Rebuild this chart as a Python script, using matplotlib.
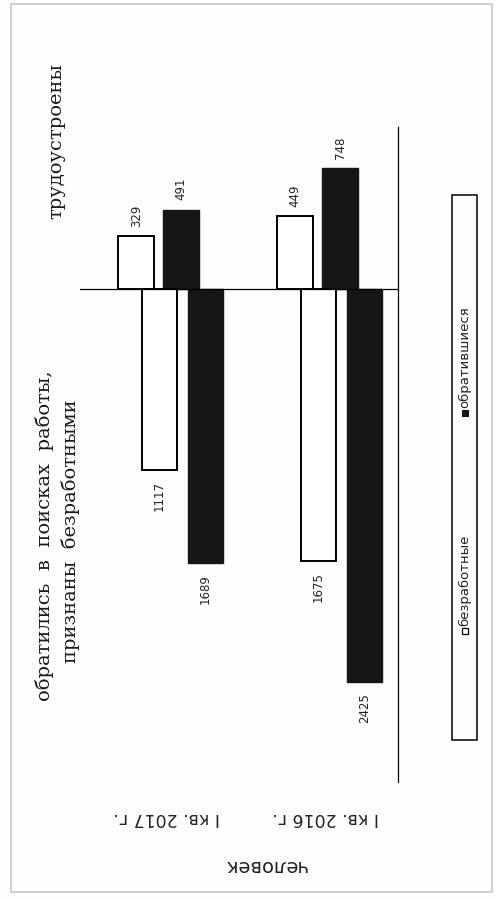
import matplotlib.pyplot as plt
from matplotlib.patches import Rectangle
from matplotlib.transforms import blended_transform_factory

# data
quarters = ['I кв. 2017 г.', 'I кв. 2016 г.']
employed_unemployed = [329, 449]    # трудоустроены, безработные
employed_applied = [491, 748]       # трудоустроены, обратившиеся
sought_unemployed = [1117, 1675]    # обратились / признаны безработными
sought_applied = [1689, 2425]

legend_labels = ['безработные', 'обратившиеся']
title_up = 'трудоустроены'
title_down = ['обратились  в  поисках  работы,', 'признаны  безработными']
unit_label = 'человек'

W, H = 496, 899
fig = plt.figure(figsize=(W / 100, H / 100), dpi=100)
fig.patch.set_facecolor('#fdfdfd')

ax = fig.add_axes([80 / W, 1 - 782 / H, 318 / W, 655 / H])
ax.set_facecolor('none')

white = 'white'
black = '#161616'
bw = 0.224
pos = range(len(quarters))

b1 = ax.bar([p - 0.212 for p in pos], employed_unemployed, bw, color=white, edgecolor='black', lw=1.4)
b2 = ax.bar([p + 0.071 for p in pos], employed_applied, bw, color=black, edgecolor=black, lw=1)
b3 = ax.bar([p - 0.066 for p in pos], [-v for v in sought_unemployed], bw, color=white, edgecolor='black', lw=1.4)
b4 = ax.bar([p + 0.223 for p in pos], [-v for v in sought_applied], bw, color=black, edgecolor=black, lw=1)

num_font = dict(family='DejaVu Sans', fontsize=8.5, rotation=90, color='#222222')
for bars, vals in [(b1, employed_unemployed), (b2, employed_applied)]:
    for r, v in zip(bars, vals):
        ax.annotate(str(v), (r.get_x() + r.get_width() / 2, v), xytext=(0, 6.5),
                    textcoords='offset points', ha='center', va='bottom', **num_font)
for bars, vals in [(b3, sought_unemployed), (b4, sought_applied)]:
    for r, v in zip(bars, vals):
        ax.annotate(str(v), (r.get_x() + r.get_width() / 2, -v), xytext=(0, -8),
                    textcoords='offset points', ha='center', va='top', **num_font)

ax.axhline(0, color='black', lw=0.9)
ax.set_xlim(-0.566, 1.434)
ax.set_ylim(-3040, 1000)
for s in ['top', 'left', 'bottom']:
    ax.spines[s].set_visible(False)
ax.spines['right'].set_linewidth(0.9)
ax.set_xticks([])
ax.set_yticks([])

# category labels (upside down as in the scan)
tr = blended_transform_factory(ax.transData, ax.transAxes)
for p, q in zip(pos, quarters):
    ax.text(p - 0.02, -0.055, q, transform=tr, rotation=180, ha='center', va='center',
            family='DejaVu Sans', fontsize=12.5, color='#222222')
ax.text(0.582, -0.128, unit_label, transform=ax.transAxes, rotation=180, ha='center',
        va='center', family='DejaVu Sans', fontsize=14, color='#222222')

# titles
serif = dict(family='DejaVu Serif', fontsize=14, rotation=90, ha='center', va='center', color='#1a1a1a')
fig.text(56 / W, 1 - 141 / H, title_up, **serif)
fig.text(45 / W, 1 - 536 / H, title_down[0], **serif)
fig.text(71 / W, 1 - 531 / H, title_down[1], **serif)

# legend box
fig.patches.append(Rectangle((452 / W, 1 - 740 / H), 25 / W, 545 / H, transform=fig.transFigure,
                             fill=False, edgecolor='black', lw=1.1))
leg_font = dict(family='DejaVu Sans', fontsize=9.5, rotation=90, ha='center', va='bottom', color='#222222')
fig.patches.append(Rectangle((462 / W, 1 - 416 / H), 6 / W, 6 / H, transform=fig.transFigure,
                             facecolor=black, edgecolor=black, lw=0.8))
fig.text(465 / W, 1 - 408 / H, legend_labels[1], **leg_font)
fig.patches.append(Rectangle((462 / W, 1 - 634 / H), 6 / W, 6 / H, transform=fig.transFigure,
                             facecolor=white, edgecolor='black', lw=0.9))
fig.text(465 / W, 1 - 626 / H, legend_labels[0], **leg_font)

# outer frame of the scan
fig.patches.append(Rectangle((11 / W, 1 - 892 / H), 481 / W, 888 / H, transform=fig.transFigure,
                             fill=False, edgecolor='#cccccc', lw=1.3))

fig.savefig('out.png', dpi=100, facecolor=fig.get_facecolor())
